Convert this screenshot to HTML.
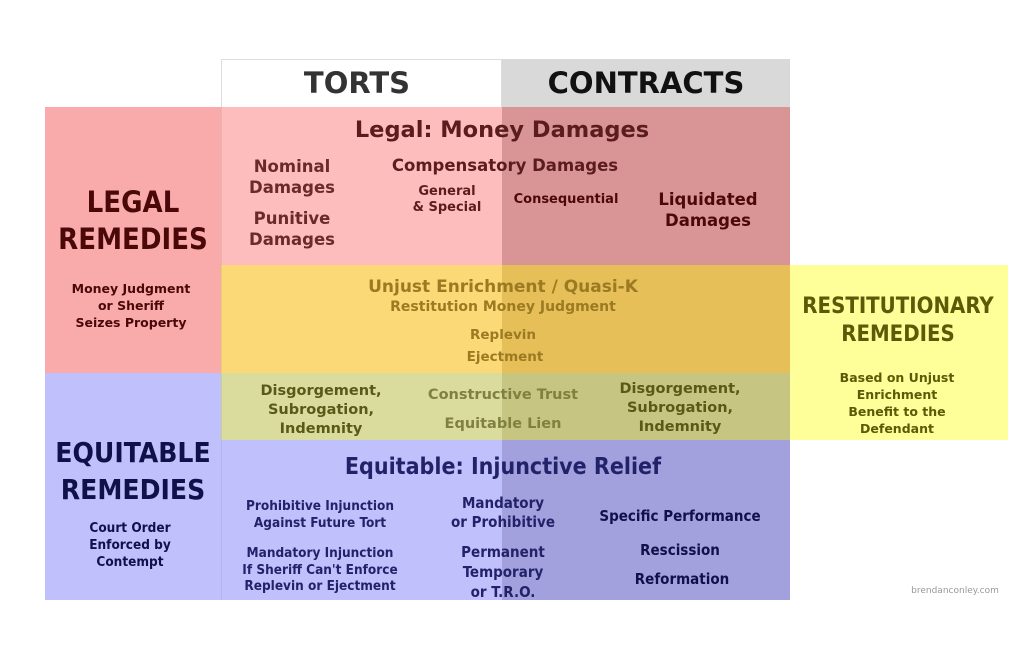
<!DOCTYPE html>
<html><head><meta charset="utf-8"><style>
*{margin:0;padding:0;box-sizing:border-box}
body{width:1024px;height:663px;background:#fff;position:relative;overflow:hidden;font-family:"DejaVu Sans","Liberation Sans",sans-serif;font-weight:bold}
.r{position:absolute}
.t{position:absolute;text-align:center;white-space:nowrap;transform:translateX(-50%)}
.cd{font-family:"DejaVu Sans Condensed","DejaVu Sans",sans-serif;font-stretch:condensed}
</style></head><body>
<div class="r" style="left:221px;top:59px;width:281px;height:48px;background:#fff;border:1px solid #ddd;border-bottom:none"></div>
<div class="r" style="left:502px;top:59px;width:288px;height:48px;background:#d9d9d9"></div>
<div class="r" style="left:45px;top:107px;width:176px;height:158px;background:#f9abab"></div>
<div class="r" style="left:45px;top:265px;width:176px;height:108px;background:#f9abab"></div>
<div class="r" style="left:221px;top:107px;width:281px;height:158px;background:#fdbdbd"></div>
<div class="r" style="left:502px;top:107px;width:288px;height:158px;background:#d99596"></div>
<div class="r" style="left:221px;top:265px;width:281px;height:108px;background:#fbd977"></div>
<div class="r" style="left:502px;top:265px;width:288px;height:108px;background:#e6bf59"></div>
<div class="r" style="left:790px;top:265px;width:218px;height:175px;background:#ffff99"></div>
<div class="r" style="left:45px;top:373px;width:176px;height:227px;background:#c0c0fd"></div>
<div class="r" style="left:221px;top:373px;width:281px;height:67px;background:#d9dc9c"></div>
<div class="r" style="left:502px;top:373px;width:288px;height:67px;background:#c6c581"></div>
<div class="r" style="left:221px;top:440px;width:281px;height:160px;background:#c0c0fc"></div>
<div class="r" style="left:502px;top:440px;width:288px;height:160px;background:#a3a1dd"></div>
<div class="r" style="left:221px;top:107px;width:1px;height:493px;background:rgba(0,0,0,0.06)"></div>

<div class="t" style="left:357px;top:66px;font-size:29px;color:#333">TORTS</div>
<div class="t" style="left:646px;top:66px;font-size:29px;color:#111">CONTRACTS</div>

<div class="t cd" style="left:133px;top:184px;font-size:29px;line-height:37px;color:#4a0808">LEGAL<br>REMEDIES</div>
<div class="t" style="left:131px;top:280px;font-size:12.5px;line-height:17px;color:#4a0808">Money Judgment<br>or Sheriff<br>Seizes Property</div>

<div class="t" style="left:502px;top:117px;font-size:22.5px;color:#5a1c1c">Legal: Money Damages</div>
<div class="t" style="left:292px;top:156px;font-size:16.5px;line-height:21px;color:#6a2a2a">Nominal<br>Damages</div>
<div class="t" style="left:292px;top:208px;font-size:16.5px;line-height:21px;color:#6a2a2a">Punitive<br>Damages</div>
<div class="t" style="left:505px;top:156px;font-size:16.5px;color:#5a1c1c">Compensatory Damages</div>
<div class="t" style="left:447px;top:184px;font-size:13px;line-height:16px;color:#5a1c1c">General<br>&amp; Special</div>
<div class="t" style="left:566px;top:192px;font-size:13px;color:#4a0808">Consequential</div>
<div class="t" style="left:708px;top:189px;font-size:16.5px;line-height:21px;color:#4a0808">Liquidated<br>Damages</div>

<div class="t" style="left:503px;top:277px;font-size:17px;color:#9b7a22">Unjust Enrichment / Quasi-K</div>
<div class="t" style="left:503px;top:299px;font-size:14px;color:#9b7a22">Restitution Money Judgment</div>
<div class="t" style="left:503px;top:327px;font-size:13.5px;color:#9b7a22">Replevin</div>
<div class="t" style="left:505px;top:349px;font-size:13.5px;color:#9b7a22">Ejectment</div>

<div class="t cd" style="left:898px;top:293px;font-size:22px;line-height:28px;color:#5a5a08">RESTITUTIONARY<br>REMEDIES</div>
<div class="t" style="left:897px;top:369px;font-size:12.5px;line-height:17px;color:#5a5a08">Based on Unjust<br>Enrichment<br>Benefit to the<br>Defendant</div>

<div class="t" style="left:321px;top:382px;font-size:14.5px;line-height:19px;color:#5a5a18">Disgorgement,<br>Subrogation,<br>Indemnity</div>
<div class="t" style="left:503px;top:387px;font-size:14.5px;color:#808040">Constructive Trust</div>
<div class="t" style="left:503px;top:416px;font-size:14.5px;color:#808040">Equitable Lien</div>
<div class="t" style="left:680px;top:380px;font-size:14.5px;line-height:19px;color:#5a5a18">Disgorgement,<br>Subrogation,<br>Indemnity</div>

<div class="t cd" style="left:133px;top:434px;font-size:28px;line-height:37px;color:#10104a">EQUITABLE<br>REMEDIES</div>
<div class="t cd" style="left:130px;top:520px;font-size:13.5px;line-height:17px;color:#10104a">Court Order<br>Enforced by<br>Contempt</div>

<div class="t cd" style="left:503px;top:454px;font-size:23px;color:#22226a">Equitable: Injunctive Relief</div>
<div class="t cd" style="left:320px;top:498px;font-size:13.5px;line-height:17px;color:#22226a">Prohibitive Injunction<br>Against Future Tort</div>
<div class="t cd" style="left:320px;top:545px;font-size:13.5px;line-height:16.5px;color:#22226a">Mandatory Injunction<br>If Sheriff Can't Enforce<br>Replevin or Ejectment</div>
<div class="t cd" style="left:503px;top:494px;font-size:15px;line-height:19px;color:#22226a">Mandatory<br>or Prohibitive</div>
<div class="t cd" style="left:503px;top:542px;font-size:15px;line-height:20px;color:#22226a">Permanent<br>Temporary<br>or T.R.O.</div>
<div class="t cd" style="left:680px;top:507px;font-size:15px;color:#10104a">Specific Performance</div>
<div class="t cd" style="left:680px;top:541px;font-size:15px;color:#10104a">Rescission</div>
<div class="t cd" style="left:682px;top:570px;font-size:15px;color:#10104a">Reformation</div>

<div class="t" style="left:955px;top:586px;font-size:9px;font-weight:normal;color:#999">brendanconley.com</div>
</body></html>
